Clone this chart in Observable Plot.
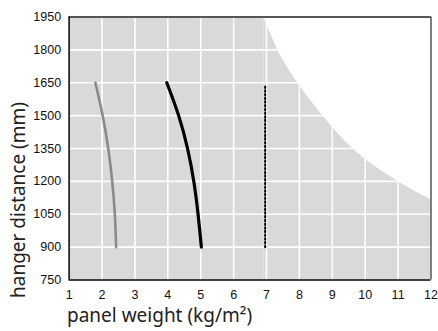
<!DOCTYPE html>
<html>
<head>
<meta charset="utf-8">
<script src="https://cdn.jsdelivr.net/npm/d3@7"></script>
<script src="https://cdn.jsdelivr.net/npm/@observablehq/plot@0.6"></script>
<style>
  html, body { margin: 0; padding: 0; background: #fff; }
  svg { display: block; }
</style>
</head>
<body>
<div id="chart"></div>
<script>
// Tick labels
const xTicks = [1, 2, 3, 4, 5, 6, 7, 8, 9, 10, 11, 12];
const yTicks = [750, 900, 1050, 1200, 1350, 1500, 1650, 1800, 1950];

// Upper boundary of the shaded (feasible) region
const boundX = [6.92, 7.34, 7.95, 8.71, 9.62, 11.0, 12.0];
const boundY = [1950, 1800, 1650, 1500, 1350, 1200, 1116];

// Gray curve
const grayX = [1.80, 2.02, 2.19, 2.31, 2.39, 2.43];
const grayY = [1650, 1500, 1350, 1200, 1050, 900];

// Black curve
const blackX = [3.97, 4.33, 4.60, 4.79, 4.92, 5.02];
const blackY = [1650, 1500, 1350, 1200, 1050, 900];

// Dotted vertical line
const dotX = [6.96, 6.96];
const dotY = [900, 1640];

const xMin = xTicks[0], xMax = xTicks[xTicks.length - 1];
const yMin = yTicks[0], yMax = yTicks[yTicks.length - 1];

const flat = [{x: xMin, y: boundY[0]}, {x: boundX[0], y: boundY[0]}];
const bound = boundX.map((x, i) => ({x, y: boundY[i]}));
const gray = grayX.map((x, i) => ({x, y: grayY[i]}));
const black = blackX.map((x, i) => ({x, y: blackY[i]}));
const dotted = dotX.map((x, i) => ({x, y: dotY[i]}));

const shade = "#d9d9d9";

const svg = Plot.plot({
  width: 438,
  height: 331,
  marginTop: 16.5,
  marginBottom: 51.5,
  marginLeft: 68.6,
  marginRight: 7.5,
  style: {fontFamily: "'Liberation Sans', Arial, sans-serif", fontSize: "12.5px", color: "#111", background: "#fff"},
  x: {domain: [xMin, xMax], ticks: xTicks, tickSize: 0, tickPadding: 10, label: null},
  y: {domain: [yMin, yMax], ticks: yTicks, tickSize: 0, tickPadding: 8, label: null, tickFormat: d => String(d)},
  marks: [
    Plot.areaY(flat, {x: "x", y1: yMin, y2: "y", fill: shade}),
    Plot.areaY(bound, {x: "x", y1: yMin, y2: "y", fill: shade, curve: "monotone-x"}),
    Plot.gridX(xTicks, {stroke: "#fff", strokeOpacity: 1, strokeWidth: 1.6}),
    Plot.gridY(yTicks, {stroke: "#fff", strokeOpacity: 1, strokeWidth: 1.6}),
    Plot.line(gray, {x: "x", y: "y", stroke: "#8a8a8a", strokeWidth: 2.6, curve: "natural"}),
    Plot.line(black, {x: "x", y: "y", stroke: "#000", strokeWidth: 3.2, curve: "natural"}),
    Plot.line(dotted, {x: "x", y: "y", stroke: "#000", strokeWidth: 2, strokeDasharray: "1.5,2.2"}),
    Plot.ruleY([yMax], {stroke: "#555", strokeWidth: 2}),
    Plot.ruleX([xMax], {stroke: "#000", strokeWidth: 1}),
    Plot.ruleX([xMin], {stroke: "#000", strokeWidth: 1.5}),
    Plot.ruleY([yMin], {stroke: "#000", strokeWidth: 1.5})
  ]
});

const s = d3.select(svg);
s.append("text")
  .attr("x", 67)
  .attr("y", 322)
  .attr("text-anchor", "start")
  .attr("fill", "#222")
  .style("font-family", "'Noto Sans', 'Open Sans', sans-serif")
  .style("font-weight", "400")
  .style("font-size", "19px")
  .text("panel weight (kg/m²)");
s.append("text")
  .attr("transform", "translate(25,200) rotate(-90)")
  .attr("text-anchor", "middle")
  .attr("fill", "#222")
  .style("font-family", "'Noto Sans', 'Open Sans', sans-serif")
  .style("font-weight", "400")
  .style("font-size", "19px")
  .text("hanger distance (mm)");

document.getElementById("chart").appendChild(svg);
</script>
</body>
</html>
